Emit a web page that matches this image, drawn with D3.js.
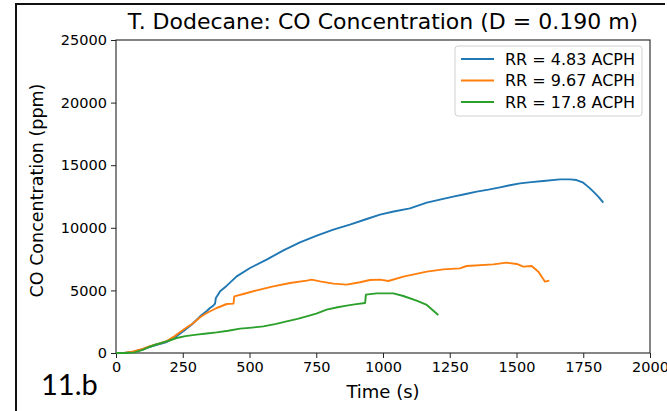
<!DOCTYPE html>
<html>
<head>
<meta charset="utf-8">
<script src="https://cdn.jsdelivr.net/npm/d3@7"></script>
<style>
  html, body { margin: 0; padding: 0; background: #fff; }
  svg { display: block; }
  text { font-family: "DejaVu Sans", sans-serif; fill: #000; }
</style>
</head>
<body>
<svg id="chart" width="667" height="411"></svg>
<script>
// CO concentration histories for three ventilation rates
const seriesNames = ["RR = 4.83 ACPH", "RR = 9.67 ACPH", "RR = 17.8 ACPH"];
const seriesColors = ["#1f77b4", "#ff7f0e", "#2ca02c"];

const timeA = [0, 30, 65, 100, 127, 160, 190, 220, 252, 285, 315, 340, 352, 365, 371, 374, 380, 390, 415, 452, 502, 564, 627, 689, 752, 814, 876, 939, 989, 1040, 1101, 1164, 1213, 1263, 1310, 1351, 1395, 1438, 1475, 1513, 1555, 1600, 1663, 1700, 1725, 1750, 1770, 1788, 1808, 1825];
const coA = [0, 5, 100, 300, 500, 700, 880, 1250, 1730, 2300, 2930, 3350, 3594, 3800, 3950, 4400, 4600, 4925, 5378, 6124, 6789, 7455, 8200, 8839, 9372, 9851, 10250, 10703, 11050, 11300, 11554, 12007, 12250, 12487, 12700, 12887, 13050, 13232, 13400, 13551, 13650, 13738, 13870, 13870, 13817, 13605, 13250, 12887, 12450, 12007];

const timeB = [0, 30, 65, 100, 127, 160, 190, 220, 252, 290, 315, 340, 377, 415, 440, 443, 477, 527, 589, 652, 714, 733, 764, 814, 864, 914, 951, 989, 1020, 1076, 1164, 1226, 1288, 1313, 1413, 1463, 1501, 1525, 1557, 1582, 1607, 1623];
const coB = [0, 10, 120, 330, 550, 750, 950, 1350, 1860, 2400, 2850, 3195, 3594, 3914, 3940, 4526, 4712, 5005, 5325, 5591, 5777, 5857, 5724, 5538, 5458, 5650, 5830, 5857, 5750, 6097, 6496, 6683, 6763, 6949, 7082, 7215, 7109, 6896, 6949, 6496, 5697, 5777];

const timeC = [0, 40, 70, 100, 127, 150, 177, 200, 227, 260, 302, 340, 377, 420, 465, 510, 552, 600, 639, 680, 714, 750, 789, 830, 864, 900, 933, 936, 976, 1039, 1076, 1126, 1164, 1207];
const coC = [0, 0, 50, 250, 500, 680, 850, 1000, 1198, 1350, 1464, 1560, 1651, 1780, 1944, 2030, 2130, 2330, 2529, 2720, 2929, 3150, 3461, 3650, 3781, 3900, 3994, 4660, 4766, 4766, 4553, 4180, 3834, 3035];

const xTicks = [0, 250, 500, 750, 1000, 1250, 1500, 1750, 2000];
const yTicks = [0, 5000, 10000, 15000, 20000, 25000];

const svg = d3.select("#chart");
const W = 667, H = 411;
const margin = { left: 116, right: 17, top: 40, bottom: 58 };
const plotW = W - margin.left - margin.right;
const plotH = H - margin.top - margin.bottom;

// outer panel frame (left and top edges)
svg.append("path")
  .attr("d", `M16,${H} L16,4 L665,4`)
  .attr("fill", "none")
  .attr("stroke", "#111")
  .attr("stroke-width", 2);

const x = d3.scaleLinear().domain([0, 2000]).range([margin.left, margin.left + plotW]);
const y = d3.scaleLinear().domain([0, 25000]).range([margin.top + plotH, margin.top]);

// axes
const xAxis = svg.append("g")
  .attr("transform", `translate(0,${margin.top + plotH})`)
  .call(d3.axisBottom(x).tickValues(xTicks).tickFormat(d3.format("d")).tickSizeOuter(0).tickSize(5).tickPadding(4));
const yAxis = svg.append("g")
  .attr("transform", `translate(${margin.left},0)`)
  .call(d3.axisLeft(y).tickValues(yTicks).tickFormat(d3.format("d")).tickSizeOuter(0).tickSize(5).tickPadding(4));
[xAxis, yAxis].forEach(g => {
  g.selectAll("text").style("font-size", "14.5px").attr("fill", "#000");
  g.selectAll("line").attr("stroke", "#222").attr("stroke-width", 1);
  g.select(".domain").remove();
});

// spines
svg.append("rect")
  .attr("x", margin.left).attr("y", margin.top)
  .attr("width", plotW).attr("height", plotH)
  .attr("fill", "none").attr("stroke", "#222").attr("stroke-width", 1.1);

// lines
const series = [
  { name: seriesNames[0], color: seriesColors[0], t: timeA, v: coA },
  { name: seriesNames[1], color: seriesColors[1], t: timeB, v: coB },
  { name: seriesNames[2], color: seriesColors[2], t: timeC, v: coC }
];
const line = d3.line().x(d => x(d[0])).y(d => y(d[1]));
series.forEach(s => {
  svg.append("path")
    .datum(s.t.map((t, i) => [t, s.v[i]]))
    .attr("d", line)
    .attr("fill", "none")
    .attr("stroke", s.color)
    .attr("stroke-width", 1.9)
    .attr("stroke-linejoin", "round");
});

// title and axis labels
svg.append("text")
  .attr("x", margin.left + plotW / 2).attr("y", 29)
  .attr("text-anchor", "middle")
  .style("font-size", "22px")
  .text("T. Dodecane: CO Concentration (D = 0.190 m)");
svg.append("text")
  .attr("x", margin.left + plotW / 2).attr("y", 398)
  .attr("text-anchor", "middle")
  .style("font-size", "18px")
  .text("Time (s)");
svg.append("text")
  .attr("transform", `translate(43,${margin.top + plotH / 2 - 6}) rotate(-90)`)
  .attr("text-anchor", "middle")
  .style("font-size", "17.5px")
  .text("CO Concentration (ppm)");

// panel tag
svg.append("text")
  .attr("x", 41).attr("y", 395)
  .style("font-family", "Lato, sans-serif")
  .style("font-size", "29px")
  .text("11.b");

// legend
const lg = svg.append("g").attr("transform", "translate(455,46)");
lg.append("rect")
  .attr("width", 187).attr("height", 70).attr("rx", 3)
  .attr("fill", "#fff").attr("fill-opacity", 0.8)
  .attr("stroke", "#d0d0d0").attr("stroke-width", 1);
series.forEach((s, i) => {
  const yy = 13 + i * 21.5;
  lg.append("line")
    .attr("x1", 6).attr("x2", 39).attr("y1", yy).attr("y2", yy)
    .attr("stroke", s.color).attr("stroke-width", 2);
  lg.append("text")
    .attr("x", 50).attr("y", yy).attr("dy", "0.36em")
    .style("font-size", "16px")
    .text(s.name);
});
</script>
</body>
</html>
